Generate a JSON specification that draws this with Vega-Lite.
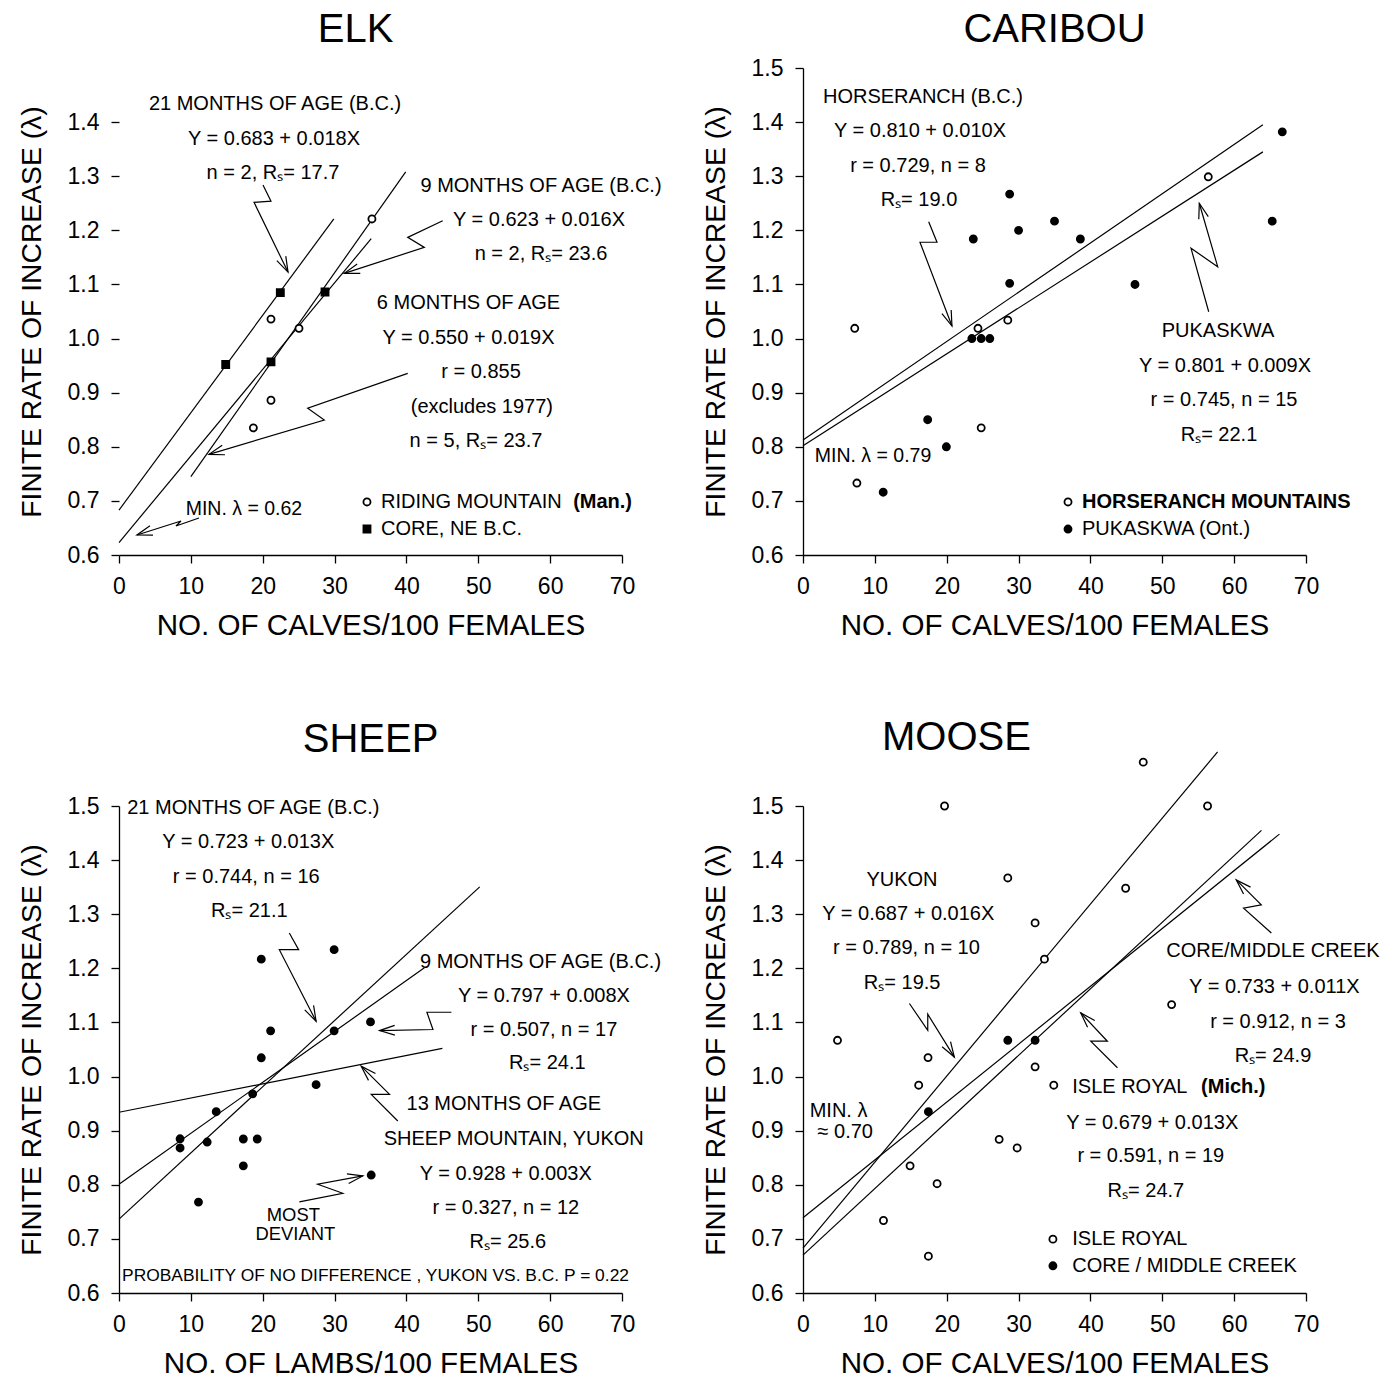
{
  "$schema": "https://vega.github.io/schema/vega-lite/v6.json",
  "background": "white",
  "padding": {"left": 17, "top": 10, "right": 0, "bottom": 0},
  "config": {
    "font": "Liberation Sans",
    "view": {"stroke": null},
    "axis": {"grid": false, "domainColor": "black", "domainWidth": 1.3, "tickColor": "black", "tickWidth": 1.3, "tickSize": 8, "labelFont": "Liberation Sans", "labelFontSize": 23, "labelColor": "black", "labelFlush": false, "titleFont": "Liberation Sans", "titleFontWeight": "normal", "titleColor": "black"},
    "axisX": {"labelPadding": 12, "titlePadding": 13, "titleFontSize": 29.6},
    "axisY": {"labelPadding": 12, "titlePadding": 21, "titleFontSize": 28.3},
    "title": {"font": "Liberation Sans", "fontSize": 40, "fontWeight": "normal", "color": "black", "anchor": "middle", "frame": "group"},
    "text": {"font": "Liberation Sans", "fontSize": 20, "color": "black"}
  },
  "datasets": {
    "points": [
      {"panel": "ELK", "group": "Riding Mountain", "x": 21.15, "y": 1.036},
      {"panel": "ELK", "group": "Riding Mountain", "x": 25.05, "y": 1.019},
      {"panel": "ELK", "group": "Riding Mountain", "x": 21.15, "y": 0.886},
      {"panel": "ELK", "group": "Riding Mountain", "x": 18.7, "y": 0.835},
      {"panel": "ELK", "group": "Riding Mountain", "x": 35.2, "y": 1.221},
      {"panel": "ELK", "group": "Core NE BC", "x": 22.45, "y": 1.085},
      {"panel": "ELK", "group": "Core NE BC", "x": 28.67, "y": 1.086},
      {"panel": "ELK", "group": "Core NE BC", "x": 14.85, "y": 0.952},
      {"panel": "ELK", "group": "Core NE BC", "x": 21.15, "y": 0.957},
      {"panel": "CARIBOU", "group": "Horseranch", "x": 7.2, "y": 1.019},
      {"panel": "CARIBOU", "group": "Horseranch", "x": 7.5, "y": 0.733},
      {"panel": "CARIBOU", "group": "Horseranch", "x": 24.35, "y": 1.019},
      {"panel": "CARIBOU", "group": "Horseranch", "x": 24.8, "y": 0.835},
      {"panel": "CARIBOU", "group": "Horseranch", "x": 28.5, "y": 1.034},
      {"panel": "CARIBOU", "group": "Horseranch", "x": 56.4, "y": 1.299},
      {"panel": "CARIBOU", "group": "Pukaskwa", "x": 66.7, "y": 1.382},
      {"panel": "CARIBOU", "group": "Pukaskwa", "x": 65.3, "y": 1.217},
      {"panel": "CARIBOU", "group": "Pukaskwa", "x": 46.2, "y": 1.1},
      {"panel": "CARIBOU", "group": "Pukaskwa", "x": 38.6, "y": 1.184},
      {"panel": "CARIBOU", "group": "Pukaskwa", "x": 35.0, "y": 1.217},
      {"panel": "CARIBOU", "group": "Pukaskwa", "x": 30.0, "y": 1.2},
      {"panel": "CARIBOU", "group": "Pukaskwa", "x": 28.76, "y": 1.267},
      {"panel": "CARIBOU", "group": "Pukaskwa", "x": 28.76, "y": 1.102},
      {"panel": "CARIBOU", "group": "Pukaskwa", "x": 23.7, "y": 1.184},
      {"panel": "CARIBOU", "group": "Pukaskwa", "x": 23.5, "y": 1.0},
      {"panel": "CARIBOU", "group": "Pukaskwa", "x": 24.8, "y": 1.0},
      {"panel": "CARIBOU", "group": "Pukaskwa", "x": 26.0, "y": 1.0},
      {"panel": "CARIBOU", "group": "Pukaskwa", "x": 17.35, "y": 0.85},
      {"panel": "CARIBOU", "group": "Pukaskwa", "x": 19.95, "y": 0.8},
      {"panel": "CARIBOU", "group": "Pukaskwa", "x": 11.16, "y": 0.716},
      {"panel": "SHEEP", "group": "Sheep", "x": 19.8, "y": 1.217},
      {"panel": "SHEEP", "group": "Sheep", "x": 29.94, "y": 1.2345},
      {"panel": "SHEEP", "group": "Sheep", "x": 21.1, "y": 1.0845},
      {"panel": "SHEEP", "group": "Sheep", "x": 29.94, "y": 1.0845},
      {"panel": "SHEEP", "group": "Sheep", "x": 35.0, "y": 1.101},
      {"panel": "SHEEP", "group": "Sheep", "x": 19.8, "y": 1.0347},
      {"panel": "SHEEP", "group": "Sheep", "x": 27.43, "y": 0.985},
      {"panel": "SHEEP", "group": "Sheep", "x": 18.6, "y": 0.968},
      {"panel": "SHEEP", "group": "Sheep", "x": 13.53, "y": 0.935},
      {"panel": "SHEEP", "group": "Sheep", "x": 8.5, "y": 0.885},
      {"panel": "SHEEP", "group": "Sheep", "x": 8.5, "y": 0.868},
      {"panel": "SHEEP", "group": "Sheep", "x": 12.27, "y": 0.879},
      {"panel": "SHEEP", "group": "Sheep", "x": 17.3, "y": 0.8846},
      {"panel": "SHEEP", "group": "Sheep", "x": 19.24, "y": 0.8846},
      {"panel": "SHEEP", "group": "Sheep", "x": 17.3, "y": 0.835},
      {"panel": "SHEEP", "group": "Sheep", "x": 11.06, "y": 0.768},
      {"panel": "SHEEP", "group": "Sheep", "x": 35.1, "y": 0.818},
      {"panel": "MOOSE", "group": "Isle Royal", "x": 4.8, "y": 1.067},
      {"panel": "MOOSE", "group": "Isle Royal", "x": 11.2, "y": 0.734},
      {"panel": "MOOSE", "group": "Isle Royal", "x": 14.9, "y": 0.835},
      {"panel": "MOOSE", "group": "Isle Royal", "x": 16.1, "y": 0.984},
      {"panel": "MOOSE", "group": "Isle Royal", "x": 17.4, "y": 1.035},
      {"panel": "MOOSE", "group": "Isle Royal", "x": 17.45, "y": 0.668},
      {"panel": "MOOSE", "group": "Isle Royal", "x": 18.66, "y": 0.802},
      {"panel": "MOOSE", "group": "Isle Royal", "x": 19.7, "y": 1.5},
      {"panel": "MOOSE", "group": "Isle Royal", "x": 27.3, "y": 0.884},
      {"panel": "MOOSE", "group": "Isle Royal", "x": 28.5, "y": 1.367},
      {"panel": "MOOSE", "group": "Isle Royal", "x": 29.8, "y": 0.868},
      {"panel": "MOOSE", "group": "Isle Royal", "x": 32.3, "y": 1.284},
      {"panel": "MOOSE", "group": "Isle Royal", "x": 32.3, "y": 1.018},
      {"panel": "MOOSE", "group": "Isle Royal", "x": 33.6, "y": 1.217},
      {"panel": "MOOSE", "group": "Isle Royal", "x": 34.9, "y": 0.984},
      {"panel": "MOOSE", "group": "Isle Royal", "x": 44.9, "y": 1.348},
      {"panel": "MOOSE", "group": "Isle Royal", "x": 47.35, "y": 1.581},
      {"panel": "MOOSE", "group": "Isle Royal", "x": 51.3, "y": 1.133},
      {"panel": "MOOSE", "group": "Isle Royal", "x": 56.3, "y": 1.5},
      {"panel": "MOOSE", "group": "Core/Middle Creek", "x": 17.45, "y": 0.935},
      {"panel": "MOOSE", "group": "Core/Middle Creek", "x": 28.5, "y": 1.067},
      {"panel": "MOOSE", "group": "Core/Middle Creek", "x": 32.3, "y": 1.067}
    ],
    "keys": [
      {"panel": "ELK", "group": "Riding Mountain", "x": 34.51, "y": 0.698},
      {"panel": "ELK", "group": "Core NE BC", "x": 34.51, "y": 0.648},
      {"panel": "CARIBOU", "group": "Horseranch", "x": 36.88, "y": 0.698},
      {"panel": "CARIBOU", "group": "Pukaskwa", "x": 36.88, "y": 0.648},
      {"panel": "MOOSE", "group": "Isle Royal", "x": 34.78, "y": 0.6995},
      {"panel": "MOOSE", "group": "Core/Middle Creek", "x": 34.78, "y": 0.6503}
    ],
    "fits": [
      {"panel": "ELK", "fit": "21 months", "x": 0, "y": 0.683},
      {"panel": "ELK", "fit": "21 months", "x": 29.9, "y": 1.2212},
      {"panel": "ELK", "fit": "9 months", "x": 0, "y": 0.623},
      {"panel": "ELK", "fit": "9 months", "x": 35.1, "y": 1.1846},
      {"panel": "ELK", "fit": "6 months", "x": 10, "y": 0.745},
      {"panel": "ELK", "fit": "6 months", "x": 39.9, "y": 1.308},
      {"panel": "CARIBOU", "fit": "Horseranch", "x": 0, "y": 0.8126},
      {"panel": "CARIBOU", "fit": "Horseranch", "x": 64, "y": 1.395},
      {"panel": "CARIBOU", "fit": "Pukaskwa", "x": 0, "y": 0.802},
      {"panel": "CARIBOU", "fit": "Pukaskwa", "x": 64, "y": 1.345},
      {"panel": "SHEEP", "fit": "21 months", "x": 0, "y": 0.7365},
      {"panel": "SHEEP", "fit": "21 months", "x": 50.2, "y": 1.3506},
      {"panel": "SHEEP", "fit": "9 months", "x": 0, "y": 0.801},
      {"panel": "SHEEP", "fit": "9 months", "x": 42.5, "y": 1.201},
      {"panel": "SHEEP", "fit": "13 months", "x": 0, "y": 0.934},
      {"panel": "SHEEP", "fit": "13 months", "x": 45, "y": 1.052},
      {"panel": "MOOSE", "fit": "Yukon", "x": 0, "y": 0.683},
      {"panel": "MOOSE", "fit": "Yukon", "x": 57.7, "y": 1.6},
      {"panel": "MOOSE", "fit": "Isle Royal", "x": 0, "y": 0.67},
      {"panel": "MOOSE", "fit": "Isle Royal", "x": 63.8, "y": 1.455},
      {"panel": "MOOSE", "fit": "Core", "x": 0, "y": 0.739},
      {"panel": "MOOSE", "fit": "Core", "x": 66.3, "y": 1.448}
    ],
    "arrows": [
      {"panel": "ELK", "id": "a1", "o": 1, "x": 20.04, "y": 1.2836},
      {"panel": "ELK", "id": "a1", "o": 2, "x": 21.15, "y": 1.254},
      {"panel": "ELK", "id": "a1", "o": 3, "x": 18.79, "y": 1.2517},
      {"panel": "ELK", "id": "a1", "o": 4, "x": 23.52, "y": 1.1229},
      {"panel": "ELK", "id": "a1h", "o": 1, "x": 23.21, "y": 1.1522},
      {"panel": "ELK", "id": "a1h", "o": 2, "x": 23.52, "y": 1.1229},
      {"panel": "ELK", "id": "a1h", "o": 3, "x": 21.97, "y": 1.1441},
      {"panel": "ELK", "id": "a2", "o": 1, "x": 45.05, "y": 1.2176},
      {"panel": "ELK", "id": "a2", "o": 2, "x": 40.18, "y": 1.187},
      {"panel": "ELK", "id": "a2", "o": 3, "x": 42.49, "y": 1.1685},
      {"panel": "ELK", "id": "a2", "o": 4, "x": 31.35, "y": 1.1205},
      {"panel": "ELK", "id": "a2h", "o": 1, "x": 33.58, "y": 1.1205},
      {"panel": "ELK", "id": "a2h", "o": 2, "x": 31.35, "y": 1.1205},
      {"panel": "ELK", "id": "a2h", "o": 3, "x": 33.15, "y": 1.1378},
      {"panel": "ELK", "id": "a3", "o": 1, "x": 40.18, "y": 0.9357},
      {"panel": "ELK", "id": "a3", "o": 2, "x": 26.26, "y": 0.8711},
      {"panel": "ELK", "id": "a3", "o": 3, "x": 28.57, "y": 0.8494},
      {"panel": "ELK", "id": "a3", "o": 4, "x": 12.52, "y": 0.786},
      {"panel": "ELK", "id": "a3h", "o": 1, "x": 14.75, "y": 0.7853},
      {"panel": "ELK", "id": "a3h", "o": 2, "x": 12.52, "y": 0.786},
      {"panel": "ELK", "id": "a3h", "o": 3, "x": 14.36, "y": 0.8029},
      {"panel": "ELK", "id": "a4", "o": 1, "x": 11.13, "y": 0.6684},
      {"panel": "ELK", "id": "a4", "o": 2, "x": 7.93, "y": 0.6536},
      {"panel": "ELK", "id": "a4", "o": 3, "x": 8.63, "y": 0.6628},
      {"panel": "ELK", "id": "a4", "o": 4, "x": 2.5, "y": 0.637},
      {"panel": "ELK", "id": "a4h", "o": 1, "x": 4.73, "y": 0.6368},
      {"panel": "ELK", "id": "a4h", "o": 2, "x": 2.5, "y": 0.637},
      {"panel": "ELK", "id": "a4h", "o": 3, "x": 4.31, "y": 0.6541},
      {"panel": "CARIBOU", "id": "c1", "o": 1, "x": 17.49, "y": 1.216},
      {"panel": "CARIBOU", "id": "c1", "o": 2, "x": 18.65, "y": 1.178},
      {"panel": "CARIBOU", "id": "c1", "o": 3, "x": 16.28, "y": 1.178},
      {"panel": "CARIBOU", "id": "c1", "o": 4, "x": 20.73, "y": 1.0232},
      {"panel": "CARIBOU", "id": "c1h", "o": 1, "x": 20.62, "y": 1.0528},
      {"panel": "CARIBOU", "id": "c1h", "o": 2, "x": 20.73, "y": 1.0232},
      {"panel": "CARIBOU", "id": "c1h", "o": 3, "x": 19.34, "y": 1.0463},
      {"panel": "CARIBOU", "id": "c2", "o": 1, "x": 56.46, "y": 1.0496},
      {"panel": "CARIBOU", "id": "c2", "o": 2, "x": 54.0, "y": 1.1668},
      {"panel": "CARIBOU", "id": "c2", "o": 3, "x": 57.71, "y": 1.1328},
      {"panel": "CARIBOU", "id": "c2", "o": 4, "x": 55.15, "y": 1.25},
      {"panel": "CARIBOU", "id": "c2h", "o": 1, "x": 55.08, "y": 1.2204},
      {"panel": "CARIBOU", "id": "c2h", "o": 2, "x": 55.15, "y": 1.25},
      {"panel": "CARIBOU", "id": "c2h", "o": 3, "x": 56.4, "y": 1.2254},
      {"panel": "SHEEP", "id": "s1", "o": 1, "x": 23.7, "y": 1.2652},
      {"panel": "SHEEP", "id": "s1", "o": 2, "x": 25.0, "y": 1.2345},
      {"panel": "SHEEP", "id": "s1", "o": 3, "x": 22.31, "y": 1.2345},
      {"panel": "SHEEP", "id": "s1", "o": 4, "x": 27.43, "y": 1.1022},
      {"panel": "SHEEP", "id": "s1h", "o": 1, "x": 27.08, "y": 1.1314},
      {"panel": "SHEEP", "id": "s1h", "o": 2, "x": 27.43, "y": 1.1022},
      {"panel": "SHEEP", "id": "s1h", "o": 3, "x": 25.85, "y": 1.1231},
      {"panel": "SHEEP", "id": "s2", "o": 1, "x": 46.26, "y": 1.1188},
      {"panel": "SHEEP", "id": "s2", "o": 2, "x": 42.85, "y": 1.1188},
      {"panel": "SHEEP", "id": "s2", "o": 3, "x": 43.69, "y": 1.0869},
      {"panel": "SHEEP", "id": "s2", "o": 4, "x": 36.26, "y": 1.085},
      {"panel": "SHEEP", "id": "s2h", "o": 1, "x": 38.39, "y": 1.0765},
      {"panel": "SHEEP", "id": "s2h", "o": 2, "x": 36.26, "y": 1.085},
      {"panel": "SHEEP", "id": "s2h", "o": 3, "x": 38.36, "y": 1.0947},
      {"panel": "SHEEP", "id": "s3", "o": 1, "x": 38.8, "y": 0.9178},
      {"panel": "SHEEP", "id": "s3", "o": 2, "x": 35.1, "y": 0.967},
      {"panel": "SHEEP", "id": "s3", "o": 3, "x": 37.65, "y": 0.967},
      {"panel": "SHEEP", "id": "s3", "o": 4, "x": 33.7, "y": 1.0192},
      {"panel": "SHEEP", "id": "s3h", "o": 1, "x": 34.72, "y": 0.9929},
      {"panel": "SHEEP", "id": "s3h", "o": 2, "x": 33.7, "y": 1.0192},
      {"panel": "SHEEP", "id": "s3h", "o": 3, "x": 35.69, "y": 1.0058},
      {"panel": "SHEEP", "id": "s4", "o": 1, "x": 25.1, "y": 0.7684},
      {"panel": "SHEEP", "id": "s4", "o": 2, "x": 31.14, "y": 0.7844},
      {"panel": "SHEEP", "id": "s4", "o": 3, "x": 27.65, "y": 0.801},
      {"panel": "SHEEP", "id": "s4", "o": 4, "x": 33.93, "y": 0.8163},
      {"panel": "SHEEP", "id": "s4h", "o": 1, "x": 31.72, "y": 0.8202},
      {"panel": "SHEEP", "id": "s4h", "o": 2, "x": 33.93, "y": 0.8163},
      {"panel": "SHEEP", "id": "s4h", "o": 3, "x": 31.96, "y": 0.8023},
      {"panel": "MOOSE", "id": "m1", "o": 1, "x": 14.81, "y": 1.135},
      {"panel": "MOOSE", "id": "m1", "o": 2, "x": 17.36, "y": 1.0855},
      {"panel": "MOOSE", "id": "m1", "o": 3, "x": 17.36, "y": 1.1152},
      {"panel": "MOOSE", "id": "m1", "o": 4, "x": 21.06, "y": 1.036},
      {"panel": "MOOSE", "id": "m1h", "o": 1, "x": 20.53, "y": 1.0646},
      {"panel": "MOOSE", "id": "m1h", "o": 2, "x": 21.06, "y": 1.036},
      {"panel": "MOOSE", "id": "m1h", "o": 3, "x": 19.36, "y": 1.0551},
      {"panel": "MOOSE", "id": "m2", "o": 1, "x": 65.18, "y": 1.2652},
      {"panel": "MOOSE", "id": "m2", "o": 2, "x": 61.31, "y": 1.3113},
      {"panel": "MOOSE", "id": "m2", "o": 3, "x": 63.78, "y": 1.3174},
      {"panel": "MOOSE", "id": "m2", "o": 4, "x": 60.29, "y": 1.3635},
      {"panel": "MOOSE", "id": "m2h", "o": 1, "x": 61.31, "y": 1.3372},
      {"panel": "MOOSE", "id": "m2h", "o": 2, "x": 60.29, "y": 1.3635},
      {"panel": "MOOSE", "id": "m2h", "o": 3, "x": 62.28, "y": 1.3501},
      {"panel": "MOOSE", "id": "m3", "o": 1, "x": 43.76, "y": 1.0162},
      {"panel": "MOOSE", "id": "m3", "o": 2, "x": 40.04, "y": 1.0653},
      {"panel": "MOOSE", "id": "m3", "o": 3, "x": 42.36, "y": 1.0653},
      {"panel": "MOOSE", "id": "m3", "o": 4, "x": 38.65, "y": 1.1177},
      {"panel": "MOOSE", "id": "m3h", "o": 1, "x": 39.6, "y": 1.0909},
      {"panel": "MOOSE", "id": "m3h", "o": 2, "x": 38.65, "y": 1.1177},
      {"panel": "MOOSE", "id": "m3h", "o": 3, "x": 40.6, "y": 1.1035}
    ],
    "notes": [
      {"panel": "ELK", "role": "c", "x": 21.71, "y": 1.433, "label": "21 MONTHS OF AGE (B.C.)"},
      {"panel": "ELK", "role": "c", "x": 21.57, "y": 1.3686, "label": "Y = 0.683 + 0.018X"},
      {"panel": "ELK", "role": "c", "x": 21.43, "y": 1.3058, "label": "n = 2, Rₛ= 17.7"},
      {"panel": "ELK", "role": "c", "x": 58.73, "y": 1.2818, "label": "9 MONTHS OF AGE (B.C.)"},
      {"panel": "ELK", "role": "c", "x": 58.45, "y": 1.219, "label": "Y = 0.623 + 0.016X"},
      {"panel": "ELK", "role": "c", "x": 58.73, "y": 1.1561, "label": "n = 2, Rₛ= 23.6"},
      {"panel": "ELK", "role": "c", "x": 48.64, "y": 1.0656, "label": "6 MONTHS OF AGE"},
      {"panel": "ELK", "role": "c", "x": 48.64, "y": 1.0009, "label": "Y = 0.550 + 0.019X"},
      {"panel": "ELK", "role": "c", "x": 50.38, "y": 0.9381, "label": "r = 0.855"},
      {"panel": "ELK", "role": "c", "x": 50.5, "y": 0.8734, "label": "(excludes 1977)"},
      {"panel": "ELK", "role": "c", "x": 49.68, "y": 0.8106, "label": "n = 5, Rₛ= 23.7"},
      {"panel": "ELK", "role": "s", "x": 17.39, "y": 0.685, "label": "MIN. λ = 0.62"},
      {"panel": "ELK", "role": "l", "x": 36.46, "y": 0.698, "label": "RIDING MOUNTAIN"},
      {"panel": "ELK", "role": "lb", "x": 63.2, "y": 0.698, "label": "(Man.)"},
      {"panel": "ELK", "role": "l", "x": 36.46, "y": 0.648, "label": "CORE, NE B.C."},
      {"panel": "CARIBOU", "role": "c", "x": 16.7, "y": 1.4464, "label": "HORSERANCH (B.C.)"},
      {"panel": "CARIBOU", "role": "c", "x": 16.28, "y": 1.3836, "label": "Y = 0.810 + 0.010X"},
      {"panel": "CARIBOU", "role": "c", "x": 16.0, "y": 1.3189, "label": "r = 0.729, n = 8"},
      {"panel": "CARIBOU", "role": "c", "x": 16.14, "y": 1.2561, "label": "Rₛ= 19.0"},
      {"panel": "CARIBOU", "role": "c", "x": 57.75, "y": 1.014, "label": "PUKASKWA"},
      {"panel": "CARIBOU", "role": "c", "x": 58.73, "y": 0.9493, "label": "Y = 0.801 + 0.009X"},
      {"panel": "CARIBOU", "role": "c", "x": 58.59, "y": 0.8865, "label": "r = 0.745, n = 15"},
      {"panel": "CARIBOU", "role": "c", "x": 57.89, "y": 0.8218, "label": "Rₛ= 22.1"},
      {"panel": "CARIBOU", "role": "s", "x": 9.74, "y": 0.783, "label": "MIN. λ = 0.79"},
      {"panel": "CARIBOU", "role": "lb", "x": 38.83, "y": 0.698, "label": "HORSERANCH MOUNTAINS"},
      {"panel": "CARIBOU", "role": "l", "x": 38.83, "y": 0.648, "label": "PUKASKWA (Ont.)"},
      {"panel": "SHEEP", "role": "c", "x": 18.69, "y": 1.4963, "label": "21 MONTHS OF AGE (B.C.)"},
      {"panel": "SHEEP", "role": "c", "x": 17.99, "y": 1.4336, "label": "Y = 0.723 + 0.013X"},
      {"panel": "SHEEP", "role": "c", "x": 17.71, "y": 1.3691, "label": "r = 0.744, n = 16"},
      {"panel": "SHEEP", "role": "c", "x": 18.13, "y": 1.3064, "label": "Rₛ= 21.1"},
      {"panel": "SHEEP", "role": "c", "x": 58.66, "y": 1.2123, "label": "9 MONTHS OF AGE (B.C.)"},
      {"panel": "SHEEP", "role": "c", "x": 59.13, "y": 1.1496, "label": "Y = 0.797 + 0.008X"},
      {"panel": "SHEEP", "role": "c", "x": 59.13, "y": 1.0869, "label": "r = 0.507,  n = 17"},
      {"panel": "SHEEP", "role": "c", "x": 59.6, "y": 1.0242, "label": "Rₛ= 24.1"},
      {"panel": "SHEEP", "role": "c", "x": 53.55, "y": 0.9486, "label": "13 MONTHS OF AGE"},
      {"panel": "SHEEP", "role": "c", "x": 54.94, "y": 0.884, "label": "SHEEP MOUNTAIN, YUKON"},
      {"panel": "SHEEP", "role": "c", "x": 53.83, "y": 0.8195, "label": "Y = 0.928 + 0.003X"},
      {"panel": "SHEEP", "role": "c", "x": 53.83, "y": 0.7568, "label": "r = 0.327, n = 12"},
      {"panel": "SHEEP", "role": "c", "x": 54.1, "y": 0.6941, "label": "Rₛ= 25.6"},
      {"panel": "SHEEP", "role": "s", "x": 24.26, "y": 0.7439, "label": "MOST"},
      {"panel": "SHEEP", "role": "s", "x": 24.54, "y": 0.7088, "label": "DEVIANT"},
      {"panel": "SHEEP", "role": "xs", "x": 35.7, "y": 0.6314, "label": "PROBABILITY OF NO DIFFERENCE , YUKON VS. B.C. P = 0.22"},
      {"panel": "MOOSE", "role": "c", "x": 13.77, "y": 1.3635, "label": "YUKON"},
      {"panel": "MOOSE", "role": "c", "x": 14.65, "y": 1.3008, "label": "Y = 0.687 + 0.016X"},
      {"panel": "MOOSE", "role": "c", "x": 14.4, "y": 1.2381, "label": "r = 0.789, n = 10"},
      {"panel": "MOOSE", "role": "c", "x": 13.8, "y": 1.1736, "label": "Rₛ= 19.5"},
      {"panel": "MOOSE", "role": "c", "x": 65.4, "y": 1.2313, "label": "CORE/MIDDLE CREEK"},
      {"panel": "MOOSE", "role": "c", "x": 65.6, "y": 1.1649, "label": "Y = 0.733 + 0.011X"},
      {"panel": "MOOSE", "role": "c", "x": 66.1, "y": 1.1011, "label": "r = 0.912, n = 3"},
      {"panel": "MOOSE", "role": "c", "x": 65.4, "y": 1.0376, "label": "Rₛ= 24.9"},
      {"panel": "MOOSE", "role": "l", "x": 37.47, "y": 0.9799, "label": "ISLE ROYAL"},
      {"panel": "MOOSE", "role": "lb", "x": 55.4, "y": 0.9799, "label": "(Mich.)"},
      {"panel": "MOOSE", "role": "c", "x": 48.6, "y": 0.9148, "label": "Y = 0.679 + 0.013X"},
      {"panel": "MOOSE", "role": "c", "x": 48.4, "y": 0.8532, "label": "r = 0.591, n = 19"},
      {"panel": "MOOSE", "role": "c", "x": 47.72, "y": 0.7887, "label": "Rₛ= 24.7"},
      {"panel": "MOOSE", "role": "c", "x": 4.95, "y": 0.937, "label": "MIN. λ"},
      {"panel": "MOOSE", "role": "c", "x": 5.88, "y": 0.897, "label": "≈ 0.70"},
      {"panel": "MOOSE", "role": "l", "x": 37.47, "y": 0.6995, "label": "ISLE ROYAL"},
      {"panel": "MOOSE", "role": "l", "x": 37.47, "y": 0.6503, "label": "CORE / MIDDLE CREEK"}
    ]
  },
  "columns": 2,
  "spacing": {"row": 251, "column": 181},
  "bounds": "flush",
  "concat": [
    {
      "title": {"text": "ELK", "dx": -15, "offset": 18},
      "width": 503, "height": 487,
      "encoding": {
        "x": {"field": "x", "type": "quantitative", "scale": {"domain": [0, 70], "nice": false, "zero": false}, "axis": {"values": [0, 10, 20, 30, 40, 50, 60, 70], "title": "NO. OF CALVES/100 FEMALES"}},
        "y": {"field": "y", "type": "quantitative", "scale": {"domain": [0.6, 1.5], "nice": false, "zero": false}, "axis": {"values": [0.6, 0.7, 0.8, 0.9, 1.0, 1.1, 1.2, 1.3, 1.4], "format": ".1f", "domain": false, "title": "FINITE RATE OF INCREASE (λ)"}}
      },
      "layer": [
        {"data": {"values": [{}]}, "mark": {"type": "rule", "color": "black", "strokeWidth": 1.3}, "encoding": {"x": {"datum": 0}, "y": {"datum": 0.6}, "y2": {"datum": 1.4}}},
        {"data": {"name": "fits"}, "transform": [{"filter": "datum.panel === 'ELK'"}], "mark": {"type": "line", "color": "black", "strokeWidth": 1.2, "clip": false}, "encoding": {"detail": {"field": "fit"}}},
        {"data": {"name": "arrows"}, "transform": [{"filter": "datum.panel === 'ELK'"}], "mark": {"type": "line", "color": "black", "strokeWidth": 1.2, "clip": false}, "encoding": {"detail": {"field": "id"}, "order": {"field": "o"}}},
        {"data": {"name": "points"}, "transform": [{"filter": "datum.panel === 'ELK'"}], "mark": {"type": "point", "filled": false, "stroke": "black", "strokeWidth": 1.8, "size": 50, "opacity": 1, "clip": false}, "encoding": {"shape": {"field": "group", "type": "nominal", "scale": {"domain": ["Riding Mountain", "Core NE BC"], "range": ["circle", "square"]}, "legend": null}, "fill": {"field": "group", "type": "nominal", "scale": {"domain": ["Riding Mountain", "Core NE BC"], "range": ["white", "black"]}, "legend": null}}},
        {"data": {"name": "keys"}, "transform": [{"filter": "datum.panel === 'ELK'"}], "mark": {"type": "point", "filled": false, "stroke": "black", "strokeWidth": 1.8, "size": 50, "opacity": 1, "clip": false}, "encoding": {"shape": {"field": "group", "type": "nominal", "scale": {"domain": ["Riding Mountain", "Core NE BC"], "range": ["circle", "square"]}, "legend": null}, "fill": {"field": "group", "type": "nominal", "scale": {"domain": ["Riding Mountain", "Core NE BC"], "range": ["white", "black"]}, "legend": null}}},
        {"data": {"name": "notes"}, "transform": [{"filter": "datum.panel === 'ELK' && datum.role === 'c'"}], "mark": {"type": "text", "align": "center", "baseline": "middle", "fontSize": 20, "clip": false}, "encoding": {"text": {"field": "label"}}},
        {"data": {"name": "notes"}, "transform": [{"filter": "datum.panel === 'ELK' && datum.role === 's'"}], "mark": {"type": "text", "align": "center", "baseline": "middle", "fontSize": 19.5, "clip": false}, "encoding": {"text": {"field": "label"}}},
        {"data": {"name": "notes"}, "transform": [{"filter": "datum.panel === 'ELK' && datum.role === 'l'"}], "mark": {"type": "text", "align": "left", "baseline": "middle", "fontSize": 20, "clip": false}, "encoding": {"text": {"field": "label"}}},
        {"data": {"name": "notes"}, "transform": [{"filter": "datum.panel === 'ELK' && datum.role === 'lb'"}], "mark": {"type": "text", "align": "left", "baseline": "middle", "fontSize": 20, "fontWeight": "bold", "clip": false}, "encoding": {"text": {"field": "label"}}}
      ]
    },
    {
      "title": {"text": "CARIBOU", "offset": 7},
      "width": 503, "height": 487,
      "encoding": {
        "x": {"field": "x", "type": "quantitative", "scale": {"domain": [0, 70], "nice": false, "zero": false}, "axis": {"values": [0, 10, 20, 30, 40, 50, 60, 70], "title": "NO. OF CALVES/100 FEMALES"}},
        "y": {"field": "y", "type": "quantitative", "scale": {"domain": [0.6, 1.5], "nice": false, "zero": false}, "axis": {"values": [0.6, 0.7, 0.8, 0.9, 1.0, 1.1, 1.2, 1.3, 1.4, 1.5], "format": ".1f", "title": "FINITE RATE OF INCREASE (λ)"}}
      },
      "layer": [
        {"data": {"name": "fits"}, "transform": [{"filter": "datum.panel === 'CARIBOU'"}], "mark": {"type": "line", "color": "black", "strokeWidth": 1.2, "clip": false}, "encoding": {"detail": {"field": "fit"}}},
        {"data": {"name": "arrows"}, "transform": [{"filter": "datum.panel === 'CARIBOU'"}], "mark": {"type": "line", "color": "black", "strokeWidth": 1.2, "clip": false}, "encoding": {"detail": {"field": "id"}, "order": {"field": "o"}}},
        {"data": {"name": "points"}, "transform": [{"filter": "datum.panel === 'CARIBOU'"}], "mark": {"type": "point", "filled": false, "stroke": "black", "strokeWidth": 1.8, "size": 50, "opacity": 1, "clip": false}, "encoding": {"shape": {"value": "circle"}, "fill": {"field": "group", "type": "nominal", "scale": {"domain": ["Horseranch", "Pukaskwa"], "range": ["white", "black"]}, "legend": null}}},
        {"data": {"name": "keys"}, "transform": [{"filter": "datum.panel === 'CARIBOU'"}], "mark": {"type": "point", "filled": false, "stroke": "black", "strokeWidth": 1.8, "size": 50, "opacity": 1, "clip": false}, "encoding": {"shape": {"value": "circle"}, "fill": {"field": "group", "type": "nominal", "scale": {"domain": ["Horseranch", "Pukaskwa"], "range": ["white", "black"]}, "legend": null}}},
        {"data": {"name": "notes"}, "transform": [{"filter": "datum.panel === 'CARIBOU' && datum.role === 'c'"}], "mark": {"type": "text", "align": "center", "baseline": "middle", "fontSize": 20, "clip": false}, "encoding": {"text": {"field": "label"}}},
        {"data": {"name": "notes"}, "transform": [{"filter": "datum.panel === 'CARIBOU' && datum.role === 's'"}], "mark": {"type": "text", "align": "center", "baseline": "middle", "fontSize": 19.5, "clip": false}, "encoding": {"text": {"field": "label"}}},
        {"data": {"name": "notes"}, "transform": [{"filter": "datum.panel === 'CARIBOU' && datum.role === 'l'"}], "mark": {"type": "text", "align": "left", "baseline": "middle", "fontSize": 20, "clip": false}, "encoding": {"text": {"field": "label"}}},
        {"data": {"name": "notes"}, "transform": [{"filter": "datum.panel === 'CARIBOU' && datum.role === 'lb'"}], "mark": {"type": "text", "align": "left", "baseline": "middle", "fontSize": 20, "fontWeight": "bold", "clip": false}, "encoding": {"text": {"field": "label"}}}
      ]
    },
    {
      "title": {"text": "SHEEP", "offset": 35},
      "width": 503, "height": 487,
      "encoding": {
        "x": {"field": "x", "type": "quantitative", "scale": {"domain": [0, 70], "nice": false, "zero": false}, "axis": {"values": [0, 10, 20, 30, 40, 50, 60, 70], "title": "NO. OF LAMBS/100 FEMALES"}},
        "y": {"field": "y", "type": "quantitative", "scale": {"domain": [0.6, 1.5], "nice": false, "zero": false}, "axis": {"values": [0.6, 0.7, 0.8, 0.9, 1.0, 1.1, 1.2, 1.3, 1.4, 1.5], "format": ".1f", "title": "FINITE RATE OF INCREASE (λ)"}}
      },
      "layer": [
        {"data": {"name": "fits"}, "transform": [{"filter": "datum.panel === 'SHEEP'"}], "mark": {"type": "line", "color": "black", "strokeWidth": 1.2, "clip": false}, "encoding": {"detail": {"field": "fit"}}},
        {"data": {"name": "arrows"}, "transform": [{"filter": "datum.panel === 'SHEEP'"}], "mark": {"type": "line", "color": "black", "strokeWidth": 1.2, "clip": false}, "encoding": {"detail": {"field": "id"}, "order": {"field": "o"}}},
        {"data": {"name": "points"}, "transform": [{"filter": "datum.panel === 'SHEEP'"}], "mark": {"type": "point", "filled": true, "fill": "black", "stroke": "black", "strokeWidth": 1.8, "size": 50, "opacity": 1, "shape": "circle", "clip": false}},
        {"data": {"name": "notes"}, "transform": [{"filter": "datum.panel === 'SHEEP' && datum.role === 'c'"}], "mark": {"type": "text", "align": "center", "baseline": "middle", "fontSize": 20, "clip": false}, "encoding": {"text": {"field": "label"}}},
        {"data": {"name": "notes"}, "transform": [{"filter": "datum.panel === 'SHEEP' && datum.role === 's'"}], "mark": {"type": "text", "align": "center", "baseline": "middle", "fontSize": 18.4, "clip": false}, "encoding": {"text": {"field": "label"}}},
        {"data": {"name": "notes"}, "transform": [{"filter": "datum.panel === 'SHEEP' && datum.role === 'xs'"}], "mark": {"type": "text", "align": "center", "baseline": "middle", "fontSize": 17.4, "clip": false}, "encoding": {"text": {"field": "label"}}}
      ]
    },
    {
      "title": {"text": "MOOSE", "dx": -98, "dy": 55, "offset": 46},
      "width": 503, "height": 487,
      "encoding": {
        "x": {"field": "x", "type": "quantitative", "scale": {"domain": [0, 70], "nice": false, "zero": false}, "axis": {"values": [0, 10, 20, 30, 40, 50, 60, 70], "title": "NO. OF CALVES/100 FEMALES"}},
        "y": {"field": "y", "type": "quantitative", "scale": {"domain": [0.6, 1.5], "nice": false, "zero": false}, "axis": {"values": [0.6, 0.7, 0.8, 0.9, 1.0, 1.1, 1.2, 1.3, 1.4, 1.5], "format": ".1f", "title": "FINITE RATE OF INCREASE (λ)"}}
      },
      "layer": [
        {"data": {"name": "fits"}, "transform": [{"filter": "datum.panel === 'MOOSE'"}], "mark": {"type": "line", "color": "black", "strokeWidth": 1.2, "clip": false}, "encoding": {"detail": {"field": "fit"}}},
        {"data": {"name": "arrows"}, "transform": [{"filter": "datum.panel === 'MOOSE'"}], "mark": {"type": "line", "color": "black", "strokeWidth": 1.2, "clip": false}, "encoding": {"detail": {"field": "id"}, "order": {"field": "o"}}},
        {"data": {"name": "points"}, "transform": [{"filter": "datum.panel === 'MOOSE'"}], "mark": {"type": "point", "filled": false, "stroke": "black", "strokeWidth": 1.8, "size": 50, "opacity": 1, "clip": false}, "encoding": {"shape": {"value": "circle"}, "fill": {"field": "group", "type": "nominal", "scale": {"domain": ["Isle Royal", "Core/Middle Creek"], "range": ["white", "black"]}, "legend": null}}},
        {"data": {"name": "keys"}, "transform": [{"filter": "datum.panel === 'MOOSE'"}], "mark": {"type": "point", "filled": false, "stroke": "black", "strokeWidth": 1.8, "size": 50, "opacity": 1, "clip": false}, "encoding": {"shape": {"value": "circle"}, "fill": {"field": "group", "type": "nominal", "scale": {"domain": ["Isle Royal", "Core/Middle Creek"], "range": ["white", "black"]}, "legend": null}}},
        {"data": {"name": "notes"}, "transform": [{"filter": "datum.panel === 'MOOSE' && datum.role === 'c'"}], "mark": {"type": "text", "align": "center", "baseline": "middle", "fontSize": 20, "clip": false}, "encoding": {"text": {"field": "label"}}},
        {"data": {"name": "notes"}, "transform": [{"filter": "datum.panel === 'MOOSE' && datum.role === 'l'"}], "mark": {"type": "text", "align": "left", "baseline": "middle", "fontSize": 20, "clip": false}, "encoding": {"text": {"field": "label"}}},
        {"data": {"name": "notes"}, "transform": [{"filter": "datum.panel === 'MOOSE' && datum.role === 'lb'"}], "mark": {"type": "text", "align": "left", "baseline": "middle", "fontSize": 20, "fontWeight": "bold", "clip": false}, "encoding": {"text": {"field": "label"}}}
      ]
    }
  ]
}
